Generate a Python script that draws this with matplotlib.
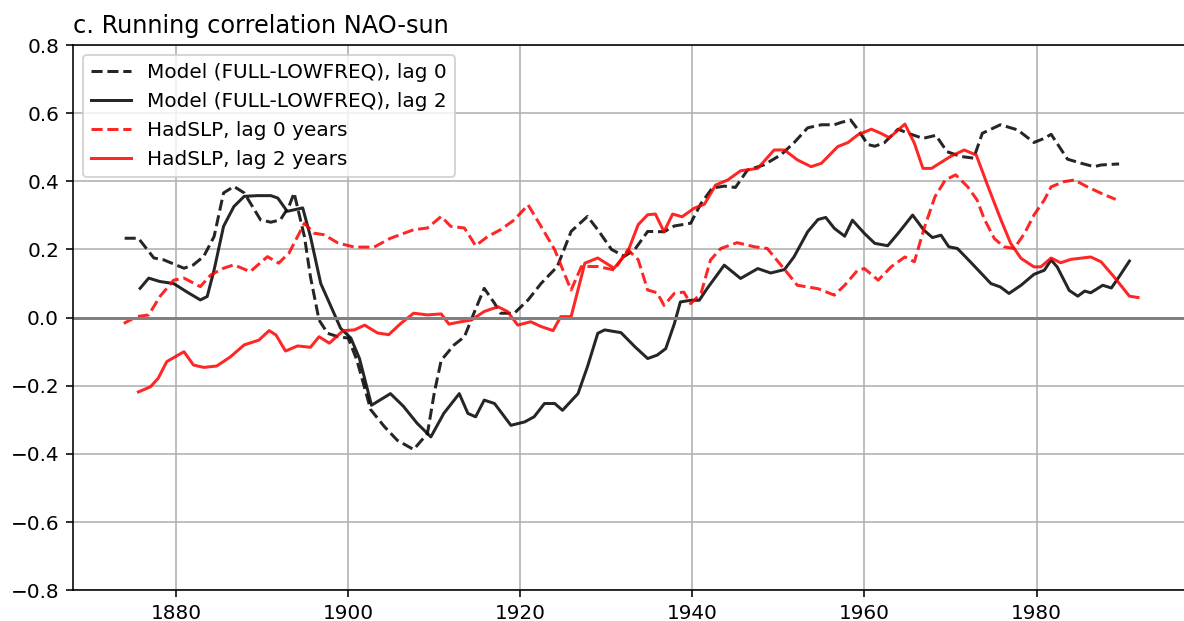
import numpy as np
import matplotlib
matplotlib.use("Agg")
import matplotlib.pyplot as plt

# Model (FULL-LOWFREQ), lag 0
yr_m0 = [1874, 1875.6, 1877.4, 1878.5, 1880.9, 1882, 1883.2, 1884.4, 1885.5, 1886.7,
         1887.9, 1889.8, 1891, 1892.1, 1893.1, 1893.7, 1894.9, 1895.6, 1896.6, 1897.6,
         1898.8, 1900, 1901, 1902.6, 1904.2, 1905.7, 1907.6, 1909.2, 1910, 1910.8,
         1912.3, 1913.5, 1914.6, 1915.8, 1917, 1917.7, 1919.3, 1920.9, 1922.4, 1924.3,
         1925.9, 1927.8, 1929, 1930.6, 1932.1, 1933.3, 1934.8, 1936.7, 1937.9, 1939.8,
         1941, 1942.3, 1943.7, 1945, 1946.4, 1948.3, 1950.3, 1951.8, 1953.4, 1955,
         1956.5, 1957.3, 1958.4, 1959.2, 1960.4, 1961.2, 1962.3, 1963.9, 1965.2, 1966.8,
         1968.3, 1969.6, 1971.2, 1972.7, 1973.7, 1975.8, 1977.8, 1979.7, 1980.9, 1981.7,
         1983.6, 1985.2, 1986.7, 1987.5, 1989.6]
model_lag0 = [0.233, 0.233, 0.175, 0.17, 0.145, 0.155, 0.18, 0.238, 0.366, 0.385,
              0.366, 0.287, 0.28, 0.287, 0.326, 0.366, 0.238, 0.12, -0.007, -0.046,
              -0.056, -0.06, -0.125, -0.27, -0.32, -0.36, -0.387, -0.34, -0.22, -0.125,
              -0.08, -0.056, 0.013, 0.086, 0.042, 0.013, 0.013, 0.052, 0.1, 0.15,
              0.253, 0.297, 0.258, 0.2, 0.18, 0.2, 0.253, 0.252, 0.269, 0.277,
              0.335, 0.38, 0.386, 0.382, 0.433, 0.448, 0.478, 0.513, 0.557, 0.566,
              0.566, 0.573, 0.58, 0.553, 0.508, 0.503, 0.513, 0.553, 0.54, 0.526,
              0.535, 0.487, 0.473, 0.468, 0.541, 0.566, 0.551, 0.514, 0.526, 0.538,
              0.465, 0.453, 0.443, 0.448, 0.451]

# Model (FULL-LOWFREQ), lag 2
yr_m2 = [1875.8, 1876.8, 1878.1, 1879.7, 1881.2, 1882.8, 1883.6, 1884.4, 1885.5, 1886.7,
         1887.9, 1889.4, 1891, 1891.8, 1892.9, 1894.7, 1895.6, 1896.8, 1898, 1899.1,
         1900.3, 1901.3, 1902.7, 1904.9, 1906.4, 1908, 1909.6, 1911.1, 1912.9, 1913.9,
         1914.8, 1915.8, 1917, 1918.9, 1920.5, 1921.6, 1922.8, 1924, 1924.9, 1926.7,
         1927.8, 1929, 1929.8, 1931.7, 1933.3, 1934.8, 1935.9, 1936.9, 1937.9, 1938.6,
         1939.8, 1940.8, 1941.7, 1943.7, 1945.6, 1947.6, 1949.1, 1950.7, 1951.8, 1953.4,
         1954.6, 1955.5, 1956.5, 1957.7, 1958.6, 1960, 1961.2, 1962.7, 1963.9, 1965.6,
         1966.9, 1967.9, 1968.9, 1969.8, 1970.8, 1972.3, 1974.7, 1975.8, 1976.8, 1978.2,
         1979.7, 1980.9, 1981.7, 1982.4, 1983.8, 1984.8, 1985.6, 1986.3, 1987.7, 1988.7,
         1989.6, 1990.8]
model_lag2 = [0.086, 0.116, 0.106, 0.1, 0.076, 0.052, 0.062, 0.14, 0.268, 0.326,
              0.356, 0.358, 0.358, 0.351, 0.312, 0.322, 0.238, 0.1, 0.032, -0.031,
              -0.06, -0.12, -0.257, -0.223, -0.26, -0.31, -0.35, -0.281, -0.223, -0.281,
              -0.291, -0.242, -0.252, -0.316, -0.306, -0.291, -0.252, -0.252, -0.272, -0.223,
              -0.144, -0.046, -0.036, -0.044, -0.085, -0.12, -0.11, -0.091, -0.018, 0.046,
              0.051, 0.051, 0.085, 0.154, 0.115, 0.144, 0.131, 0.141, 0.178, 0.252,
              0.288, 0.294, 0.262, 0.239, 0.286, 0.247, 0.218, 0.211, 0.247, 0.301,
              0.257, 0.235, 0.242, 0.208, 0.203, 0.164, 0.1, 0.09, 0.071, 0.095,
              0.127, 0.139, 0.169, 0.149, 0.08, 0.063, 0.078, 0.073, 0.095, 0.087,
              0.12, 0.166]

# HadSLP, lag 0 years
yr_h0 = [1873.9, 1875.4, 1876.8, 1878.1, 1879.7, 1880.9, 1882.8, 1884, 1885.5, 1886.7,
         1888.6, 1890.6, 1891.9, 1893.1, 1894.9, 1896, 1897.2, 1898.8, 1900.7, 1903,
         1904.9, 1907.6, 1909.2, 1910.8, 1911.9, 1913.5, 1914.8, 1916.2, 1917.7, 1919.3,
         1920.9, 1922.4, 1924, 1925.1, 1925.9, 1927.1, 1929, 1930.9, 1932.5, 1933.7,
         1934.8, 1935.9, 1936.7, 1937.9, 1939, 1939.8, 1941, 1942.1, 1943.3, 1945.2,
         1947.2, 1948.7, 1950.3, 1952.2, 1954.6, 1956.5, 1957.7, 1959.2, 1960, 1961.6,
         1963.1, 1964.7, 1965.8, 1967, 1968.2, 1969.4, 1970.6, 1972, 1973.1, 1973.9,
         1975.1, 1976.2, 1977.4, 1978.6, 1979.7, 1980.9, 1981.7, 1983.2, 1984.4, 1985.9,
         1987.5, 1989.2]
hadslp_lag0 = [-0.017, 0.003, 0.008, 0.062, 0.11, 0.116, 0.091, 0.125, 0.145, 0.155,
               0.135, 0.179, 0.16, 0.189, 0.277, 0.248, 0.243, 0.219, 0.207, 0.207,
               0.233, 0.258, 0.263, 0.297, 0.268, 0.263, 0.211, 0.238, 0.258, 0.287,
               0.331, 0.268, 0.199, 0.13, 0.081, 0.15, 0.15, 0.14, 0.199, 0.17,
               0.081, 0.073, 0.036, 0.071, 0.075, 0.041, 0.071, 0.169, 0.203, 0.22,
               0.208, 0.203, 0.154, 0.095, 0.085, 0.066, 0.095, 0.139, 0.144, 0.11,
               0.149, 0.178, 0.164, 0.267, 0.355, 0.404, 0.419, 0.384, 0.345, 0.291,
               0.232, 0.208, 0.203, 0.247, 0.301, 0.345, 0.384, 0.399, 0.404, 0.384,
               0.365, 0.347]

# HadSLP, lag 2 years
yr_h2 = [1875.6, 1877, 1877.9, 1878.9, 1880.9, 1882, 1883.2, 1884.7, 1886.3, 1887.9,
         1889.6, 1890.8, 1891.6, 1892.7, 1894.1, 1895.6, 1896.6, 1897.8, 1899.4, 1900.7,
         1901.9, 1903.4, 1904.7, 1906.1, 1907.6, 1909.2, 1910.8, 1911.7, 1913.1, 1914.3,
         1915.8, 1917.4, 1918.5, 1919.7, 1921.2, 1922.4, 1923.8, 1924.7, 1925.9, 1927.5,
         1929, 1930.9, 1932.5, 1933.7, 1934.8, 1935.7, 1936.7, 1937.7, 1938.8, 1940.2,
         1941.4, 1942.7, 1944.1, 1945.6, 1947.6, 1949.5, 1950.7, 1952.2, 1953.8, 1955,
         1956.9, 1958.1, 1959.2, 1960.8, 1961.9, 1962.9, 1964.7, 1965.8, 1966.8, 1967.8,
         1970, 1971.6, 1973, 1974.3, 1975.8, 1977, 1978.2, 1979.7, 1980.5, 1981.7,
         1982.8, 1984, 1986.3, 1987.5, 1989, 1990.8, 1991.8]
hadslp_lag2 = [-0.218, -0.203, -0.178, -0.129, -0.1, -0.139, -0.146, -0.142, -0.115, -0.08,
               -0.066, -0.038, -0.051, -0.098, -0.083, -0.087, -0.056, -0.075, -0.038, -0.036,
               -0.022, -0.045, -0.05, -0.017, 0.013, 0.008, 0.011, -0.019, -0.012, -0.007,
               0.018, 0.032, 0.018, -0.022, -0.012, -0.026, -0.038, 0.003, 0.003, 0.16,
               0.175, 0.145, 0.194, 0.273, 0.302, 0.304, 0.252, 0.304, 0.296, 0.321,
               0.333, 0.389, 0.404, 0.431, 0.438, 0.492, 0.492, 0.463, 0.443, 0.453,
               0.502, 0.514, 0.536, 0.553, 0.541, 0.528, 0.568, 0.512, 0.438, 0.438,
               0.473, 0.492, 0.477, 0.389, 0.291, 0.218, 0.174, 0.149, 0.149, 0.175,
               0.161, 0.171, 0.178, 0.164, 0.12, 0.063, 0.059]

labels = ["Model (FULL-LOWFREQ), lag 0", "Model (FULL-LOWFREQ), lag 2",
          "HadSLP, lag 0 years", "HadSLP, lag 2 years"]

# reference looks like a notebook figure saved at ~144 dpi
DPI = 144
fig = plt.figure(figsize=(1184 / DPI, 621 / DPI), dpi=DPI)
ax = fig.add_axes([0.0617, 0.0495, 0.9423, 0.878])

ax.plot(yr_m0, model_lag0, "k--", alpha=0.85, label=labels[0])
ax.plot(yr_m2, model_lag2, "k-", alpha=0.85, label=labels[1])
ax.plot(yr_h0, hadslp_lag0, "r--", alpha=0.85, label=labels[2])
ax.plot(yr_h2, hadslp_lag2, "r-", alpha=0.85, label=labels[3])

ax.axhline(0, color="gray", lw=1.5)
ax.set_ylim(-0.8, 0.8)
ax.set_yticks(np.arange(-0.8, 0.81, 0.2))
ax.set_xticks([1880, 1900, 1920, 1940, 1960, 1980])
ax.grid(True)
ax.set_title("c. Running correlation NAO-sun", loc="left")
ax.legend(loc="upper left")

fig.savefig("out.png", dpi=DPI)
